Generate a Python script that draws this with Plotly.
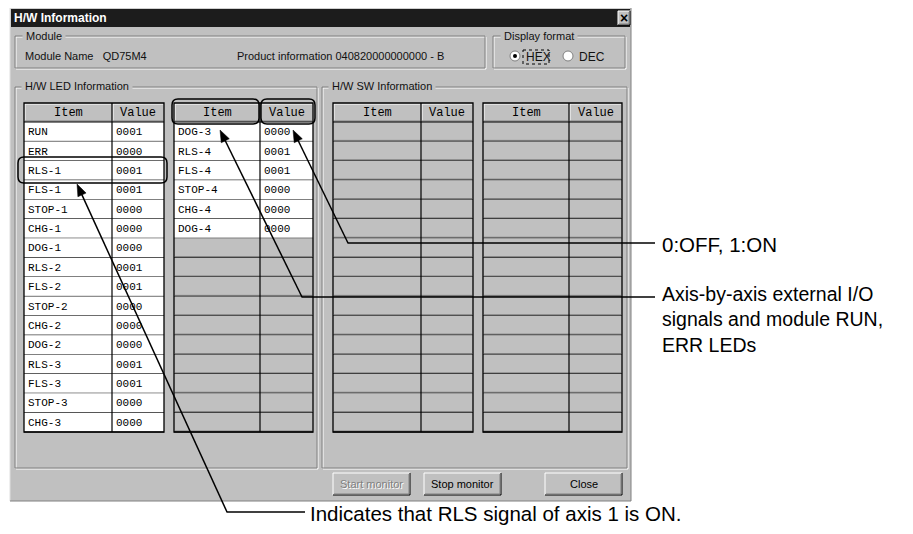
import math
import plotly.graph_objects as go

# ---------------- data ----------------
led_items_a = ["RUN", "ERR", "RLS-1", "FLS-1", "STOP-1", "CHG-1", "DOG-1", "RLS-2",
               "FLS-2", "STOP-2", "CHG-2", "DOG-2", "RLS-3", "FLS-3", "STOP-3", "CHG-3"]
led_values_a = ["0001", "0000", "0001", "0001", "0000", "0000", "0000", "0001",
                "0001", "0000", "0000", "0000", "0001", "0001", "0000", "0000"]
led_items_b = ["DOG-3", "RLS-4", "FLS-4", "STOP-4", "CHG-4", "DOG-4"]
led_values_b = ["0000", "0001", "0001", "0000", "0000", "0000"]
sw_items_a = []
sw_values_a = []
sw_items_b = []
sw_values_b = []
col_headers = ["Item", "Value"]
module_name = "QD75M4"
product_info = "040820000000000 - B"
callout_onoff = ["0:OFF, 1:ON"]
callout_io = ["Axis-by-axis external I/O", "signals and module RUN,", "ERR LEDs"]
callout_rls = ["Indicates that RLS signal of axis 1 is ON."]

# ---------------- styles ----------------
W, H = 913, 534
PAGE_MARGIN = 8  # browser default body margin
FACE = "#c0c0c0"
DARK = "#808080"
UI_FONT = "Arial, Liberation Sans, sans-serif"
MONO = "Courier New, Liberation Mono, monospace"
CALLOUT_SIZE = 20.5
N_ROWS = 16
HDR_TOP, HDR_BOT = 103, 122
ROW_H = (432 - HDR_BOT) / N_ROWS

fig = go.Figure()
shapes = []
anns = []


def rect(x0, y0, x1, y1, fill=None, line=None, lw=1):
    shapes.append(dict(type="rect", xref="x", yref="y", x0=x0, y0=y0, x1=x1, y1=y1,
                       fillcolor=fill if fill else "rgba(0,0,0,0)",
                       line=dict(color=line if line else "rgba(0,0,0,0)", width=lw if line else 0)))


def line(x0, y0, x1, y1, color="black", lw=1):
    shapes.append(dict(type="line", xref="x", yref="y", x0=x0, y0=y0, x1=x1, y1=y1,
                       line=dict(color=color, width=lw)))


def text(x, y, s, size=11, color="black", font=UI_FONT, xanchor="left", bg=None, yanchor="middle", bold=False):
    anns.append(dict(x=x, y=y, xref="x", yref="y", text=("<b>%s</b>" % s) if bold else s,
                     showarrow=False, xanchor=xanchor, yanchor=yanchor, align="left",
                     font=dict(size=size, color=color, family=font),
                     bgcolor=bg if bg else "rgba(0,0,0,0)", borderpad=0))


def etched_box(x0, y0, x1, y1):
    rect(x0 + 1, y0 + 1, x1 + 1, y1 + 1, line="white")
    rect(x0, y0, x1, y1, line=DARK)


def button(x0, y0, x1, y1, label, enabled=True):
    rect(x0, y0, x1, y1, fill=FACE)
    line(x0, y0, x1, y0, "white"); line(x0, y0, x0, y1, "white")
    line(x0, y1, x1, y1, "black"); line(x1, y0, x1, y1, "black")
    line(x0 + 1, y1 - 1, x1 - 1, y1 - 1, DARK); line(x1 - 1, y0 + 1, x1 - 1, y1 - 1, DARK)
    cx, cy = (x0 + x1) / 2, (y0 + y1) / 2
    if enabled:
        text(cx, cy, label, 11, "black", xanchor="center")
    else:
        text(cx + 1, cy + 1, label, 11, "white", xanchor="center")
        text(cx, cy, label, 11, DARK, xanchor="center")


def rounded(x0, y0, x1, y1, r=6):
    p = (f"M {x0+r},{y0} L {x1-r},{y0} Q {x1},{y0} {x1},{y0+r} L {x1},{y1-r} "
         f"Q {x1},{y1} {x1-r},{y1} L {x0+r},{y1} Q {x0},{y1} {x0},{y1-r} "
         f"L {x0},{y0+r} Q {x0},{y0} {x0+r},{y0} Z")
    shapes.append(dict(type="path", xref="x", yref="y", path=p,
                       line=dict(color="black", width=1.5), fillcolor="rgba(0,0,0,0)"))


def table(xl, xm, xr, items, values):
    for (a, b), hdr in zip([(xl, xm), (xm, xr)], col_headers):
        rect(a, HDR_TOP, b, HDR_BOT, fill=FACE)
        line(a + 1, HDR_TOP + 1, b - 1, HDR_TOP + 1, "white")
        line(a + 1, HDR_TOP + 1, a + 1, HDR_BOT - 1, "white")
        line(a + 1, HDR_BOT - 1, b - 1, HDR_BOT - 1, DARK)
        text((a + b) / 2, (HDR_TOP + HDR_BOT) / 2 + 0.5, hdr, 12, "black", MONO, xanchor="center")
    for i in range(N_ROWS):
        y0 = HDR_BOT + i * ROW_H
        y1 = y0 + ROW_H
        filled = i < len(items)
        rect(xl, y0, xr, y1, fill="white" if filled else FACE)
        if not filled:
            line(xl + 1, y1 - 1, xr - 1, y1 - 1, DARK)
        if filled:
            text(xl + 3, (y0 + y1) / 2 + 0.5, items[i], 11, "black", MONO)
            text(xm + 3, (y0 + y1) / 2 + 0.5, values[i], 11, "black", MONO)
        line(xl, y1, xr, y1, "black")
    rect(xl, HDR_TOP, xr, HDR_BOT + N_ROWS * ROW_H, line="black", lw=1.3)
    line(xm, HDR_TOP, xm, HDR_BOT + N_ROWS * ROW_H, "black", 1.2)
    line(xl, HDR_BOT, xr, HDR_BOT, "black", 1.2)


def arrow(tip, bend, xend, head_len=12, head_half=4.5):
    tx, ty = tip
    bx, by = bend
    dx, dy = tx - bx, ty - by
    n = math.hypot(dx, dy)
    ux, uy = dx / n, dy / n
    cx, cy = tx - ux * head_len, ty - uy * head_len
    px, py = -uy, ux
    line(bx, by, cx + ux * 2, cy + uy * 2, "black", 1.5)
    line(bx - 0.5, by, xend, by, "black", 1.5)
    p = (f"M {tx},{ty} L {cx + px * head_half},{cy + py * head_half} "
         f"L {cx - px * head_half},{cy - py * head_half} Z")
    shapes.append(dict(type="path", xref="x", yref="y", path=p,
                       fillcolor="black", line=dict(color="black", width=0.5)))


# ---------------- dialog ----------------
rect(10, 8, 631, 501, fill=FACE)
line(10, 8, 631, 8, "#dfdfdf"); line(10, 8, 10, 501, "#dfdfdf")
line(10, 501, 631, 501, DARK); line(631, 8, 631, 501, DARK)
rect(11, 9, 630, 27, fill="#1c1c1c")
text(13, 18, "H/W Information", 12, "white", bold=True)
button(618, 11, 630, 25, "", True)
text(624, 18, "<b>×</b>", 14, "black", xanchor="center")

# Module group
etched_box(15, 36, 485, 68)
text(22, 36, " Module ", 11, "#111", bg=FACE, xanchor="left")
text(24, 56, "Module Name   " + module_name, 11, "#111")
text(236, 56, "Product information " + product_info, 11, "#111")

# Display format group
etched_box(493, 36, 625, 68)
text(500, 36, " Display format ", 11, "#111", bg=FACE)
for cx, lab, sel in [(515, "HEX", True), (568, "DEC", False)]:
    shapes.append(dict(type="circle", xref="x", yref="y", x0=cx - 5, y0=51, x1=cx + 5, y1=61,
                       fillcolor="white", line=dict(color=DARK, width=1)))
    if sel:
        shapes.append(dict(type="circle", xref="x", yref="y", x0=cx - 2, y0=54, x1=cx + 2, y1=58,
                           fillcolor="black", line=dict(color="black", width=0)))
    text(cx + 10, 57, lab, 12, "#111")
shapes.append(dict(type="rect", xref="x", yref="y", x0=523, y0=50, x1=549, y1=64,
                   line=dict(color="black", width=1, dash="dot"), fillcolor="rgba(0,0,0,0)"))

# LED and SW groups
etched_box(15, 87, 317, 468)
text(21, 86, " H/W LED Information ", 11, "#111", bg=FACE)
etched_box(322, 87, 627, 468)
text(328, 86, " H/W SW Information ", 11, "#111", bg=FACE)

table(24, 112, 164, led_items_a, led_values_a)
table(174, 260, 313, led_items_b, led_values_b)
table(333, 421, 473, sw_items_a, sw_values_a)
table(483, 569, 622, sw_items_b, sw_values_b)

button(333, 473, 410, 495, "Start monitor", enabled=False)
button(424, 473, 501, 495, "Stop monitor")
button(545, 473, 622, 495, "Close")

# ---------------- callouts ----------------
rounded(18, 157, 167, 183)
rounded(172, 99, 259, 124)
rounded(261, 99, 315, 124)

arrow((293, 130), (348, 243), 655)
arrow((220, 130), (302, 297), 655)
arrow((77, 184), (227, 512), 305)

text(661, 244, "<br>".join(callout_onoff), CALLOUT_SIZE, "black")
text(661, 319, "<br>".join(callout_io), 19.5, "black")
text(309, 513, "<br>".join(callout_rls), CALLOUT_SIZE, "black")

fig.update_layout(
    width=W - PAGE_MARGIN, height=H - 2 * PAGE_MARGIN, margin=dict(l=0, r=0, t=0, b=0),
    paper_bgcolor="white", plot_bgcolor="white",
    xaxis=dict(range=[PAGE_MARGIN, W], visible=False, fixedrange=True),
    yaxis=dict(range=[H - PAGE_MARGIN, PAGE_MARGIN], visible=False, fixedrange=True),
    shapes=shapes, annotations=anns, showlegend=False,
)
fig.write_html("out.html")
